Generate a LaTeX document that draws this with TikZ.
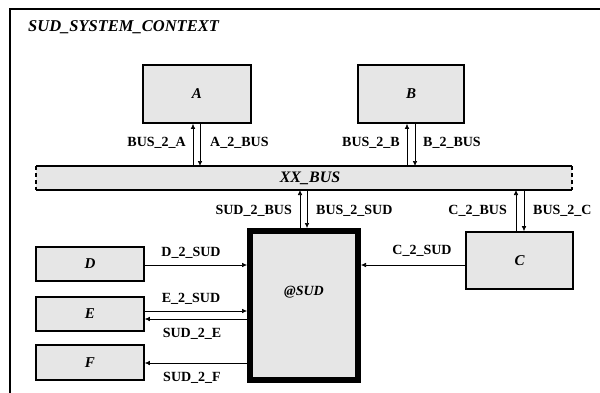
\documentclass[tikz,border=0pt]{standalone}
\usepackage{fontspec}
\setmainfont{Liberation Serif}
\usetikzlibrary{arrows.meta}
\definecolor{boxgray}{HTML}{E6E6E6}
\tikzset{
  blk/.style={draw=black, line width=1.6pt, fill=boxgray, inner sep=0pt, font=\fontsize{15}{16}\selectfont\bfseries\itshape},
  sig/.style={draw=black, line width=0.6pt, -{Latex[length=5pt,width=4.5pt]}},
  lbl/.style={font=\fontsize{14}{15}\selectfont\bfseries, inner sep=0pt},
}
\begin{document}
\begin{tikzpicture}[x=1pt,y=-1pt]
\useasboundingbox (0,0) rectangle (600,392);
\begin{scope}
\clip (0,0) rectangle (600,392);
\draw[line width=1.8pt] (10,420) -- (10,9) -- (620,9);
\end{scope}
\node[anchor=west, font=\fontsize{16.5}{17}\selectfont\bfseries\itshape, inner sep=0pt] (title) at (28,27) {SUD\_SYSTEM\_CONTEXT};
% boxes
\node[blk, minimum width=108pt, minimum height=58pt] (A) at (197,94) {A};
\node[blk, minimum width=106pt, minimum height=58pt] (B) at (411,94) {B};
% bus
\fill[boxgray] (36,166) rectangle (572,190);
\draw[line width=1.6pt] (36,166) -- (572,166);
\draw[line width=1.6pt] (36,190) -- (572,190);
\draw[line width=1.6pt, dash pattern=on 4pt off 3pt] (36,166) -- (36,190);
\draw[line width=1.6pt, dash pattern=on 4pt off 3pt] (572,166) -- (572,190);
\node[font=\fontsize{16}{17}\selectfont\bfseries\itshape, inner sep=0pt] (bus) at (310,178) {XX\_BUS};
\coordinate (busA1) at (193,166);
\coordinate (busA2) at (200,166);
\coordinate (busB1) at (407,166);
\coordinate (busB2) at (415,166);
\coordinate (busS1) at (300,190);
\coordinate (busS2) at (307,190);
\coordinate (busC1) at (516,190);
\coordinate (busC2) at (524,190);
% SUD
\node[draw=black, line width=6pt, fill=boxgray, minimum width=108pt, minimum height=149pt, inner sep=0pt] (S) at (304,305.5) {};
\node[font=\fontsize{14}{15}\selectfont\bfseries\itshape] (Stext) at (304,292) {@SUD};
\node[blk, minimum width=107pt, minimum height=57pt] (C) at (519.5,260.5) {C};
\node[blk, minimum width=108pt, minimum height=34pt] (D) at (90,264) {D};
\node[blk, minimum width=108pt, minimum height=34pt] (E) at (90,314) {E};
\node[blk, minimum width=108pt, minimum height=35pt] (F) at (90,362.5) {F};
% A, B
\draw[sig] (busA1) -- (busA1 |- A.south);
\draw[sig] (busA2 |- A.south) -- (busA2);
\draw[sig] (busB1) -- (busB1 |- B.south);
\draw[sig] (busB2 |- B.south) -- (busB2);
\node[lbl, anchor=east] (lBA) at (186,143) {BUS\_2\_A};
\node[lbl, anchor=west] (lAB) at (210,143) {A\_2\_BUS};
\node[lbl, anchor=east] (lBB) at (400,143) {BUS\_2\_B};
\node[lbl, anchor=west] (lBBb) at (423,143) {B\_2\_BUS};
% SUD bus
\draw[sig] (busS1 |- S.north) -- (busS1);
\draw[sig] (busS2) -- (busS2 |- S.north);
\node[lbl, anchor=east] (lSB) at (292,211) {SUD\_2\_BUS};
\node[lbl, anchor=west] (lBS) at (316,211) {BUS\_2\_SUD};
% C bus
\draw[sig] (busC1 |- C.north) -- (busC1);
\draw[sig] (busC2) -- (busC2 |- C.north);
\node[lbl, anchor=east] (lCB) at (507,211) {C\_2\_BUS};
\node[lbl, anchor=west] (lBC) at (533,211) {BUS\_2\_C};
% C to SUD
\draw[sig] (C.west |- 0,265) -- (S.east |- 0,265);
\node[lbl] (lCS) at (422,251) {C\_2\_SUD};
% D,E,F
\draw[sig] (D.east |- 0,265) -- (S.west |- 0,265);
\node[lbl] (lDS) at (191,253) {D\_2\_SUD};
\draw[sig] (E.east |- 0,311) -- (S.west |- 0,311);
\node[lbl] (lES) at (191,299) {E\_2\_SUD};
\draw[sig] (S.west |- 0,319) -- (E.east |- 0,319);
\node[lbl] (lSE) at (192,334) {SUD\_2\_E};
\draw[sig] (S.west |- 0,363) -- (F.east |- 0,363);
\node[lbl] (lSF) at (192,378) {SUD\_2\_F};
\end{tikzpicture}
\end{document}
